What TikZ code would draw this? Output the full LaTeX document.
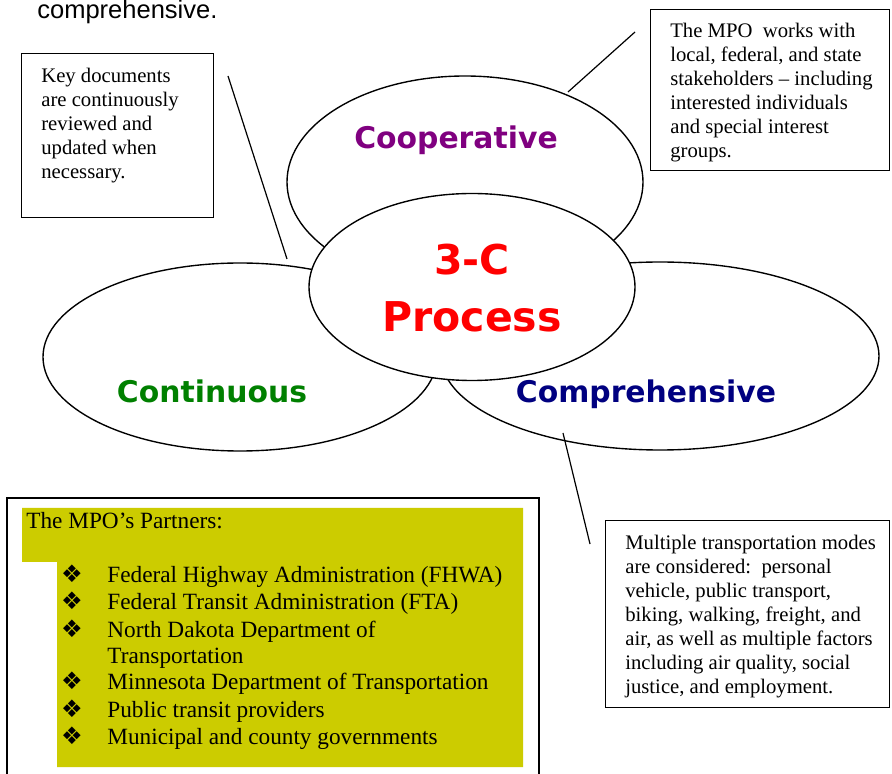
\documentclass[tikz,border=0pt]{standalone}
\usepackage{fontspec}
\setmainfont{Liberation Serif}
\newfontfamily\pillarfont{DejaVu Sans}
\newfontfamily\headfont{Liberation Sans}
\newfontfamily\symfont{DejaVu Sans}
\usetikzlibrary{shapes.geometric,positioning}
\definecolor{coopviolet}{HTML}{800080}
\definecolor{contgreen}{HTML}{008000}
\definecolor{compnavy}{HTML}{000080}
\definecolor{corered}{HTML}{FF0000}
\definecolor{partneryellow}{HTML}{CCCC00}
\newcommand\pxu{0.58pt}
\tikzset{
  headline/.style={font=\headfont\fontsize{14.8}{17}\selectfont,anchor=base west,inner sep=0pt},
  memo/.style={draw=black,line width=0.8pt,fill=white,inner sep=0pt,anchor=north west},
  memotext/.style={font=\fontsize{12}{13.9}\selectfont,align=left,inner sep=0pt,anchor=north west},
  pillar/.style={ellipse,draw=black,line width=0.8pt,fill=white,inner sep=0pt},
  pillarlabel/.style={font=\pillarfont\bfseries\fontsize{17.3}{20}\selectfont,anchor=base,inner sep=0pt},
  corelabel/.style={font=\pillarfont\bfseries\fontsize{23.8}{33.6}\selectfont,text=corered,align=center,anchor=base,inner sep=0pt},
  partner/.style={font=\fontsize{13.5}{15.6}\selectfont,anchor=base west,inner sep=0pt},
  bulletmark/.style={font=\symfont\fontsize{14}{16}\selectfont,anchor=base,inner sep=0pt},
  link/.style={draw=black,line width=0.7pt}
}
\begin{document}
\begin{tikzpicture}[x=0.58pt,y=-0.58pt]
\useasboundingbox (0,0) rectangle (892,774);
\node[headline] (head) at (37,19) {comprehensive.};

% the three C's and the core
\node[pillar,minimum width=356*\pxu,minimum height=212*\pxu] (coop) at (465,182) {};
\node[pillar,minimum width=394*\pxu,minimum height=188*\pxu] (cont) at (240,357) {};
\node[pillar,minimum width=438*\pxu,minimum height=188*\pxu] (comp) at (660,356) {};
\node[pillar,minimum width=326*\pxu,minimum height=187*\pxu] (core) at (472,287) {};
\node[pillarlabel,text=coopviolet] (coop-lbl) at (456,149) {Cooperative};
\node[pillarlabel,text=contgreen] (cont-lbl) at (212,403) {Continuous};
\node[pillarlabel,text=compnavy] (comp-lbl) at (646,403) {Comprehensive};
\node[corelabel] (core-lbl) at (472,332) {3-C\\Process};

% notes
\node[memo,minimum width=192*\pxu,minimum height=164*\pxu] (kd) at (21,53) {};
\node[memotext] (kd-txt) at (41,68) {Key documents\\are continuously\\reviewed and\\updated when\\necessary.};
\node[memo,minimum width=239*\pxu,minimum height=161*\pxu] (mpo) at (650,9) {};
\node[memotext] (mpo-txt) at (670,23) {The MPO\ \ works with\\local, federal, and state\\stakeholders -- including\\interested individuals\\and special interest\\groups.};
\node[memo,minimum width=284*\pxu,minimum height=187*\pxu] (modes) at (605,520) {};
\node[memotext] (modes-txt) at (625,535) {Multiple transportation modes\\are considered:\ \ personal\\vehicle, public transport,\\biking, walking, freight, and\\air, as well as multiple factors\\including air quality, social\\justice, and employment.};

% leader lines
\coordinate (kd-end) at (228,76); \coordinate (cont-end) at (287,259);
\coordinate (mpo-end) at (635,32); \coordinate (coop-end) at (568,92);
\coordinate (comp-end) at (563,433); \coordinate (modes-end) at (590,544);
\draw[link] (kd-end) -- (cont-end);
\draw[link] (mpo-end) -- (coop-end);
\draw[link] (comp-end) -- (modes-end);

% partners
\node[memo,line width=1pt,minimum width=532*\pxu,minimum height=300*\pxu] (partners) at (6,497) {};
\fill[partneryellow] (22,508) -- (523,508) -- (523,767) -- (57,767) -- (57,562) -- (22,562) -- cycle;
\node[partner] (partners-ttl) at (26,529) {The MPO’s Partners:};
\foreach \yy/\txt [count=\i] in {583/{Federal Highway Administration (FHWA)},610/{Federal Transit Administration (FTA)},637/{North Dakota Department of},690/{Minnesota Department of Transportation},717/{Public transit providers},744/{Municipal and county governments}}{
\node[bulletmark] (b\i) at (72,\yy) {❖};
\node[partner] (p\i) at (107,\yy) {\txt};
}
\node[partner] (p3b) at (107,663) {Transportation};
\end{tikzpicture}
\end{document}
